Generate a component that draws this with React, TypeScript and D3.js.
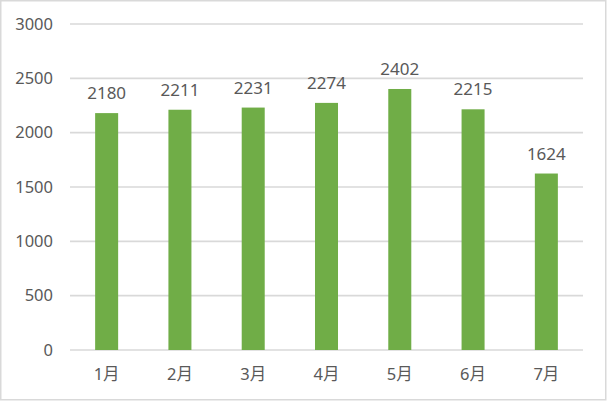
import * as d3 from "d3";

const MONTHS = ["1月", "2月", "3月", "4月", "5月", "6月", "7月"];
const VALUES = [2180, 2211, 2231, 2274, 2402, 2215, 1624];
const Y_TICKS = [0, 500, 1000, 1500, 2000, 2500, 3000];

const WIDTH = 607;
const HEIGHT = 401;
const FONT = "'Noto Sans', 'Noto Sans CJK SC', sans-serif";
const TEXT_COLOR = "#595959";
const GRID_COLOR = "#d9d9d9";
const BAR_COLOR = "#70ad47";

export default function App() {
  const x = d3.scaleBand<string>().domain(MONTHS).range([70, 583]).paddingInner(0.686).paddingOuter(0.343);
  const y = d3.scaleLinear().domain([0, 3000]).range([350, 24]);

  return (
    <svg
      width={WIDTH}
      height={HEIGHT}
      viewBox={`0 0 ${WIDTH} ${HEIGHT}`}
      style={{ position: "fixed", left: 0, top: 0, display: "block", background: "#fff" }}
    >
      <rect x={0.75} y={0.75} width={WIDTH - 2} height={HEIGHT - 2} fill="#fff" stroke={GRID_COLOR} strokeWidth={1.5} />

      {Y_TICKS.map((tick) => (
        <g key={tick}>
          <line x1={70} x2={583} y1={y(tick)} y2={y(tick)} stroke={GRID_COLOR} strokeWidth={1.6} />
          <text
            x={53}
            y={y(tick)}
            dy="0.35em"
            textAnchor="end"
            fontFamily={FONT}
            fontSize={16.5}
            fill={TEXT_COLOR}
          >
            {tick}
          </text>
        </g>
      ))}

      {MONTHS.map((month, i) => {
        const bx = x(month) ?? 0;
        const cx = bx + x.bandwidth() / 2;
        return (
          <g key={month}>
            <rect x={bx} y={y(VALUES[i])} width={x.bandwidth()} height={y(0) - y(VALUES[i])} fill={BAR_COLOR} />
            <text
              x={cx}
              y={y(VALUES[i]) - 14}
              textAnchor="middle"
              fontFamily={FONT}
              fontSize={17}
              fill={TEXT_COLOR}
            >
              {VALUES[i]}
            </text>
            <text
              x={cx}
              y={380}
              textAnchor="middle"
              fontFamily={FONT}
              fontSize={16.5}
              fill={TEXT_COLOR}
            >
              {month}
            </text>
          </g>
        );
      })}
    </svg>
  );
}
